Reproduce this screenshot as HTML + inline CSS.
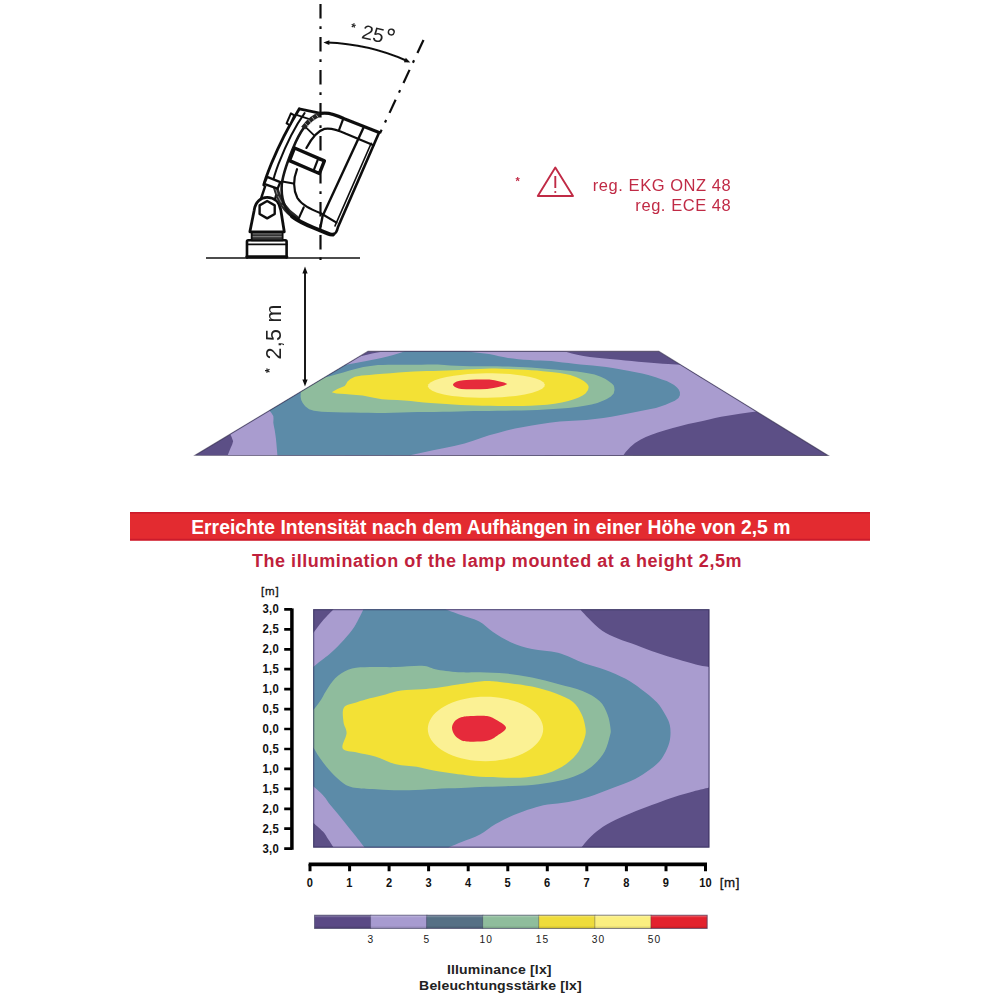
<!DOCTYPE html>
<html><head><meta charset="utf-8"><title>Illumination diagram</title>
<style>
html,body{margin:0;padding:0;background:#fff;}
body{width:1000px;height:1000px;overflow:hidden;font-family:"Liberation Sans",sans-serif;}
svg{display:block;}
text{font-family:"Liberation Sans",sans-serif;}
</style></head><body>
<svg width="1000" height="1000" viewBox="0 0 1000 1000">
<rect width="1000" height="1000" fill="#fff"/>
<defs><filter id="soft" x="-5%" y="-5%" width="110%" height="110%"><feGaussianBlur stdDeviation="0.55"/></filter>
<filter id="soft2"><feGaussianBlur stdDeviation="0.35"/></filter></defs>

<!-- ground line -->
<path d="M206,258H360" stroke="#111" stroke-width="1.6" fill="none"/>
<!-- lamp -->
<g filter="url(#soft2)">
<g transform="translate(220,90) scale(0.18)" fill="none" stroke="#111" stroke-width="14.6" stroke-linecap="round" stroke-linejoin="round">
  <!-- base -->
  <path d="M150,930 V842 Q150,835 157,835 H363 Q370,835 370,842 V930" fill="#fff"/>
  <path d="M150,858 H370" stroke-width="10.1"/>
  <path d="M150,927 H370" stroke-width="19"/>
  <!-- rings -->
  <rect x="176" y="783" width="172" height="52" fill="#333" stroke-width="10.1"/>
  <path d="M184,799 H340 M184,815 H340" stroke="#aaa" stroke-width="4"/>
  <!-- neck -->
  <path d="M229,600 L265,492 L330,520 L305,610 Z" fill="#fff" stroke-width="13.4"/>
  <!-- bracket -->
  <path d="M166,788 L190,668 C196,622 226,597 262,597 C300,597 330,622 338,668 L357,788 Z" fill="#fff" stroke-width="15.7"/>
  <path d="M262,617 L304,641 L304,689 L262,713 L220,689 L220,641 Z" stroke-width="13.4"/>
  <!-- lamp body fill -->
  <path d="M440,105 L560,130 C600,122 640,135 690,160 L884,236 L655,762 C650,785 645,798 628,803 L420,720 C380,700 345,650 335,560 L243,528 C260,460 330,300 440,105 Z" fill="#fff" stroke="none"/>
  <!-- hatched dark zone between neck and band -->
  <path d="M306,532 C318,575 330,610 352,642 C372,672 395,692 420,708" stroke="#2a2a2a" stroke-width="29.1"/>
  <path d="M308,545 L318,578 M324,592 L340,624 M350,642 L378,672" stroke="#999" stroke-width="5"/>
  <!-- back plate -->
  <path d="M440,105 C400,170 330,300 285,410 C265,460 250,500 243,528" stroke-width="15.7"/>
  <path d="M394,130 L370,185 L388,195 L413,141 Z" stroke-width="11.2" fill="#fff"/>
  <path d="M440,105 L560,130" stroke-width="14.6"/>
  <path d="M425,138 L492,160" stroke-width="10.1"/>
  <path d="M470,128 C425,190 368,300 325,410 C308,455 297,490 292,520" stroke-width="11.2"/>
  <!-- clamp at bottom of back plate -->
  <path d="M262,482 L335,512 L320,548 L245,522 Z" fill="#fff" stroke-width="13.4"/>
  <!-- gasket: arc line + hatched thick part at top -->
  <path d="M560,132 C510,148 462,200 420,290 C385,370 352,450 343,525 C338,600 358,660 400,702" stroke-width="14.5" stroke="#151515"/>
  <path d="M556,136 C520,146 492,170 462,212" stroke-width="27" stroke="#222" stroke-linecap="butt"/>
  <path d="M535,138 L545,152 M512,150 L524,166 M492,166 L505,182 M474,186 L488,200" stroke="#aaa" stroke-width="5"/>
  <!-- outer D band -->
  <path d="M560,130 C600,122 640,135 690,160 L884,236" stroke-width="17.9"/>
  <path d="M400,702 C430,725 470,745 520,765 L600,798 C612,803 620,805 628,803" stroke-width="21.3"/>
  <!-- inner D -->
  <path d="M853,307 L700,243 C650,220 615,208 580,216 C540,228 505,275 480,322" stroke-width="12.3"/>
  <path d="M428,440 C405,500 410,560 430,600 C455,640 500,660 560,685 L647,737" stroke-width="12.3"/>
  <!-- front glass -->
  <path d="M884,236 L655,762 C650,785 645,798 628,803" stroke-width="14.6"/>
  <path d="M840,296 L639,755" stroke-width="9"/>
  <!-- long straight seam line -->
  <path d="M797,210 L570,700 L556,772" stroke-width="13.4"/>
  <!-- seams -->
  <path d="M683,165 L660,226" stroke-width="12.3"/>
  <path d="M465,652 L438,712" stroke-width="12.3"/>
  <path d="M480,210 L523,252" stroke-width="10.1"/>
  <path d="M346,508 L408,519" stroke-width="11.2"/>
  <!-- small handle -->
  <path d="M414,322 L580,394 L552,464 L386,392 Z" fill="#fff" stroke-width="19"/>
  <path d="M543,388 L520,448" stroke-width="12.3"/>
</g>

</g>
<!-- dash-dot lines -->
<g fill="none" stroke="#111" stroke-width="2.2" stroke-dasharray="14.4 7.9 2.8 7.9" filter="url(#soft2)">
<path d="M320.5,4V262"/>
<path d="M423.5,40L380,133.3"/>
</g>
<!-- angle arc -->
<g filter="url(#soft2)">
<path d="M326.7,42.6A214.5,214.5 0 0 1 407.2,61.0" fill="none" stroke="#111" stroke-width="2"/>
<path d="M323.4,42.5L329.4,40.3L329.3,45.1ZM410.3,62.4L403.9,62.2L405.8,57.8Z" fill="#111"/>
<g transform="translate(373.5,33.5) rotate(13)" fill="#222">
<text x="-11.5" y="7.2" font-size="20">25</text>
<circle cx="17" cy="-5.4" r="2.9" fill="none" stroke="#222" stroke-width="1.4"/>
<text x="-23.5" y="2.5" font-size="12" font-weight="bold">*</text>
</g>
<!-- 2,5 m -->
<path d="M305,270V384" stroke="#111" stroke-width="1.9" fill="none"/>
<path d="M305,266.5L302.4,273.5H307.6ZM305,386.5L302.4,379.5H307.6Z" fill="#111"/>
<g transform="translate(281,372) rotate(-90)" fill="#222">
<text x="-1" y="-7" font-size="12" font-weight="bold">*</text>
<text x="12.5" y="0" font-size="21.5" letter-spacing="0.3">2,5 m</text>
</g>
</g>

<!-- regulation -->
<g fill="#c02a45" font-size="16.5" letter-spacing="0.55" filter="url(#soft2)">
<text x="515.5" y="184.5" font-size="11" font-weight="bold">*</text>
<path d="M555.3,167.5L537.8,196H573Z" fill="none" stroke="#c02a45" stroke-width="1.9" stroke-linejoin="round"/>
<path d="M555.3,176V188" stroke="#c02a45" stroke-width="1.9" fill="none"/>
<circle cx="555.3" cy="192" r="1.1"/>
<text x="731.3" y="191" text-anchor="end">reg. EKG ONZ 48</text>
<text x="731.3" y="210.5" text-anchor="end">reg. ECE 48</text>
</g>

<!-- floor -->
<g filter="url(#soft)">
<path d="M368.0,351.4L658.8,351.4L828.0,455.5L195.2,455.2Z" fill="#5c4f86"/>
<path d="M383.0,351.4L383.3,351.4L384.2,351.4L385.7,351.4L387.8,351.4L390.4,351.4L393.4,351.4L397.0,351.4L400.9,351.4L405.3,351.4L410.0,351.4L415.0,351.4L420.3,351.4L425.9,351.4L431.8,351.4L437.8,351.4L444.1,351.4L450.4,351.4L456.9,351.4L463.4,351.4L470.0,351.4L476.7,351.4L483.3,351.4L489.8,351.4L496.3,351.4L502.6,351.4L508.9,351.4L514.9,351.4L520.8,351.4L526.4,351.4L531.7,351.4L536.8,351.4L541.5,351.4L545.8,351.4L549.8,351.4L553.3,351.4L556.4,351.4L559.0,351.4L561.0,351.4L562.6,351.4L563.5,351.4L563.8,351.4L566.6,352.1L571.8,353.4L577.2,354.7L583.4,355.9L589.9,356.9L596.9,357.7L601.9,358.2L607.2,358.7L612.8,359.2L618.8,359.8L625.2,360.5L631.7,361.1L638.1,361.7L644.6,362.2L650.9,362.7L656.9,363.2L662.7,363.7L668.0,364.1L676.1,364.5L680.5,364.8L680.9,365.0L682.0,365.7L683.7,366.7L686.1,368.2L689.1,370.0L692.6,372.2L696.6,374.7L701.1,377.4L706.1,380.5L711.4,383.8L717.0,387.2L722.9,390.8L728.8,394.5L734.7,398.1L740.3,401.5L745.5,404.7L749.9,407.5L753.4,409.6L755.7,411.0L756.5,411.5L750.4,412.3L739.8,413.7L733.7,414.7L727.4,415.7L721.1,416.8L715.1,418.0L709.1,419.4L702.7,420.9L695.6,422.4L688.1,424.1L680.6,426.0L672.9,428.0L665.1,430.2L657.8,432.4L651.5,434.7L645.8,437.0L640.8,439.4L635.0,443.1L630.3,447.0L625.7,452.1L623.2,455.4L622.5,455.4L620.4,455.4L617.1,455.4L612.6,455.4L606.9,455.4L600.2,455.4L592.5,455.4L583.8,455.4L574.3,455.4L564.0,455.4L552.9,455.4L541.2,455.4L529.0,455.4L516.2,455.4L502.9,455.3L489.3,455.3L475.4,455.3L461.2,455.3L446.9,455.3L432.5,455.3L418.0,455.3L403.6,455.3L389.3,455.3L375.1,455.3L361.2,455.3L347.6,455.3L334.4,455.3L321.6,455.3L309.4,455.3L297.7,455.2L286.7,455.2L276.4,455.2L266.9,455.2L258.3,455.2L250.6,455.2L243.9,455.2L238.2,455.2L233.7,455.2L230.4,455.2L228.4,455.2L227.7,455.2L228.8,452.4L230.6,447.9L232.2,444.6L233.1,441.3L231.6,436.9L230.2,434.2L230.9,433.8L233.0,432.5L236.2,430.5L240.6,427.9L245.8,424.8L251.6,421.3L257.9,417.5L264.6,413.5L271.5,409.4L278.4,405.2L285.3,401.1L292.0,397.0L298.6,393.1L304.9,389.3L310.9,385.7L316.6,382.3L322.0,379.0L327.1,376.0L331.7,373.2L336.1,370.6L340.0,368.2L343.6,366.0L346.9,364.1L349.7,362.4L352.3,360.9L354.4,359.6L356.2,358.5L357.6,357.6L358.7,357.0L359.3,356.6L359.5,356.5L362.8,355.7L368.1,354.5L372.1,353.6L376.0,352.8L380.4,351.9Z" fill="#a99ccf"/>
<path d="M404.9,351.4L405.9,351.4L408.7,351.4L413.0,351.4L418.4,351.4L424.7,351.4L431.4,351.4L438.4,351.4L445.1,351.4L451.4,351.4L456.8,351.4L461.1,351.4L463.9,351.4L464.9,351.4L468.9,351.8L475.9,352.6L480.2,353.0L484.8,353.4L489.0,354.0L494.0,355.0L499.0,356.2L503.3,357.0L508.0,357.9L513.1,358.6L518.3,359.2L523.8,359.7L529.8,360.1L534.8,360.4L540.2,360.6L545.6,360.8L551.1,361.1L556.8,361.7L562.6,362.4L568.4,363.1L573.9,363.7L580.4,364.4L586.4,364.9L592.6,365.5L599.3,366.2L606.1,367.1L612.6,368.0L618.4,368.9L623.8,369.9L629.4,371.0L635.7,372.2L642.2,373.6L648.2,375.0L655.7,377.2L661.9,379.4L666.7,381.1L670.5,382.9L674.1,385.1L677.0,387.5L678.9,389.8L679.9,392.3L679.9,395.2L678.5,398.1L674.8,400.7L669.5,403.1L665.6,404.8L661.2,406.3L655.9,407.9L649.4,409.3L641.9,410.8L634.4,412.2L626.9,413.7L619.3,415.3L611.4,416.8L603.3,418.0L594.9,419.1L586.3,420.0L577.3,420.6L568.1,421.1L559.7,421.6L549.4,422.7L539.5,424.2L531.8,425.5L523.5,426.9L515.1,428.6L506.6,430.6L497.8,432.9L489.1,435.3L481.0,438.0L473.1,440.8L464.5,443.6L454.2,446.0L443.2,448.3L433.0,450.3L418.2,453.5L410.1,455.3L407.9,455.3L401.6,455.3L392.1,455.3L380.1,455.3L366.3,455.3L351.4,455.3L336.1,455.3L321.2,455.3L307.3,455.3L295.3,455.2L285.9,455.2L279.6,455.2L277.4,455.2L277.0,450.6L276.4,443.5L275.9,438.3L275.2,433.2L274.6,429.5L273.8,425.7L273.3,422.4L273.5,418.8L273.3,415.9L271.1,412.5L269.4,410.6L270.3,410.1L272.8,408.6L276.6,406.3L281.5,403.4L287.0,400.0L293.1,396.4L299.3,392.7L305.6,388.9L311.7,385.2L317.5,381.7L323.0,378.5L327.9,375.5L332.4,372.8L336.3,370.4L339.6,368.5L342.2,366.9L344.2,365.7L345.4,365.0L345.8,364.7L347.4,364.4L351.6,363.7L358.4,362.5L366.4,361.1L371.4,360.1L376.5,359.0L381.3,358.0L387.5,356.6L393.3,355.1L398.1,353.6L402.8,352.1Z" fill="#5b8ba8"/>
<path d="M324.5,377.6L326.3,377.1L329.8,376.2L333.2,375.3L337.5,374.1L343.2,372.4L349.6,370.5L356.3,368.7L363.3,367.1L370.5,365.9L378.0,365.1L382.9,364.9L388.0,364.8L393.7,364.7L398.7,364.7L404.3,364.7L410.0,364.8L415.7,364.7L421.4,364.7L427.4,364.5L433.0,364.4L437.9,364.4L444.3,364.9L450.3,365.4L456.5,365.7L463.4,366.0L469.9,366.2L475.4,366.2L480.5,366.2L486.2,366.2L491.3,366.2L496.9,366.3L502.7,366.4L508.4,366.5L514.0,366.7L519.6,367.0L525.3,367.3L530.9,367.6L536.7,368.0L542.5,368.5L548.4,369.0L554.2,369.5L560.1,369.9L566.0,370.4L571.7,370.9L577.1,371.5L583.5,372.4L589.4,373.5L594.6,374.6L600.7,376.8L605.5,379.1L609.5,381.7L612.4,384.1L613.7,385.4L614.2,386.9L614.5,389.9L613.7,393.4L610.9,396.4L606.4,399.3L602.3,401.1L597.4,402.9L591.5,404.4L584.7,405.8L576.9,406.9L568.3,407.9L561.1,408.5L553.4,409.1L545.3,409.6L537.3,410.0L529.4,410.3L521.5,410.4L513.5,410.6L505.6,410.7L497.4,410.8L489.1,410.9L481.0,411.0L473.6,411.1L465.4,411.3L458.2,411.5L450.0,411.7L442.5,411.8L434.3,411.9L425.9,412.0L417.6,412.1L409.4,412.3L401.2,412.5L392.9,412.8L384.8,412.9L376.7,412.9L368.6,412.8L360.7,412.7L352.8,412.6L344.5,412.4L336.0,412.3L328.1,412.0L321.7,411.7L313.9,410.8L309.1,409.2L305.2,406.3L302.7,403.1L301.2,399.9L300.6,396.8L300.7,393.5L301.0,391.6L302.9,390.5L307.6,387.7L313.4,384.2L318.9,380.9L322.9,378.5Z" fill="#8fbc9d"/>
<path d="M354.9,376.7L361.8,375.6L369.4,375.0L376.1,374.3L383.0,373.8L390.7,373.2L398.6,372.5L406.0,371.9L413.9,371.4L420.1,371.2L426.7,371.1L432.9,371.0L440.0,370.8L447.1,370.6L453.0,370.3L459.3,369.9L465.7,369.6L472.6,369.3L479.5,369.0L485.5,368.8L491.2,368.6L496.0,368.6L501.4,368.8L508.3,369.1L513.3,369.3L519.2,369.5L525.4,369.8L531.3,370.2L537.0,370.6L542.8,371.2L548.3,371.7L553.4,372.3L559.7,373.1L565.3,374.0L570.2,375.0L575.9,376.9L580.3,379.0L583.7,381.0L586.2,383.1L588.0,384.9L588.7,386.9L588.0,390.0L585.5,393.4L582.6,395.4L578.7,397.4L574.0,399.3L568.3,401.0L561.8,402.5L554.7,403.8L547.0,404.7L538.8,405.3L530.5,405.8L522.6,406.0L514.6,406.1L505.9,406.0L498.4,406.0L490.3,405.8L482.4,405.7L475.1,405.5L467.4,405.2L460.7,404.9L453.2,404.4L446.1,404.0L438.3,403.5L430.7,402.9L423.9,402.4L416.8,401.8L410.8,401.1L404.4,400.5L397.0,400.1L389.3,399.8L381.9,399.3L375.1,398.1L368.7,396.8L362.6,395.6L356.4,394.9L350.3,394.4L344.8,393.9L336.3,393.4L331.7,392.2L337.4,389.1L344.7,385.9L346.3,383.7L347.3,381.7L350.4,379.0Z" fill="#f3e136"/>
<path d="M544.8,384.4L544.4,386.5L542.2,388.7L538.1,390.8L532.3,392.7L524.7,394.4L515.7,395.9L509.1,396.6L502.0,397.2L494.7,397.6L487.2,397.8L479.7,397.8L472.3,397.6L465.2,397.2L458.4,396.6L452.1,395.9L443.8,394.4L437.1,392.7L432.2,390.7L429.1,388.6L427.9,386.5L428.5,384.3L430.9,382.3L434.8,380.3L440.1,378.6L446.5,377.0L454.0,375.7L462.2,374.7L467.9,374.1L473.9,373.7L480.0,373.5L486.1,373.3L492.3,373.3L498.4,373.5L504.3,373.7L510.1,374.1L515.6,374.7L523.4,375.7L530.2,377.0L535.9,378.6L540.4,380.3L543.4,382.3Z" fill="#fbf194"/>
<path d="M453.1,383.9L454.5,382.7L456.8,381.6L459.8,380.8L463.3,380.2L466.3,379.9L470.8,379.7L476.4,379.6L483.3,379.5L489.2,379.6L494.5,380.2L498.7,381.2L504.1,382.4L507.3,383.9L504.1,385.4L498.4,386.9L493.5,388.1L487.1,389.0L480.3,389.3L472.4,389.3L466.1,389.3L461.3,388.9L458.6,388.4L456.0,387.5L454.2,386.5L453.1,385.2Z" fill="#e62a3a"/>
<path d="M368.0,351.4L658.8,351.4L828.0,455.5L195.2,455.2Z" fill="none" stroke="#25203f" stroke-opacity="0.6" stroke-width="1.1" stroke-linejoin="miter"/>
</g>

<!-- banner -->
<rect x="130" y="512" width="740" height="28.6" fill="#e32b30"/>
<rect x="130" y="512" width="740" height="1.6" fill="#c4182c" fill-opacity="0.8"/>
<rect x="130" y="538.8" width="740" height="1.8" fill="#c4182c" fill-opacity="0.8"/>
<text transform="translate(490.8,534.2) scale(0.968,1)" text-anchor="middle" font-size="20" font-weight="bold" fill="#fff">Erreichte Intensität nach dem Aufhängen in einer Höhe von 2,5 m</text>
<text x="497" y="567" text-anchor="middle" font-size="18" font-weight="bold" fill="#c01f3c" letter-spacing="0.55">The illumination of the lamp mounted at a height 2,5m</text>

<!-- chart -->
<g filter="url(#soft)">
<rect x="313.2" y="609.2" width="396.2" height="238.39999999999998" fill="#5c4f86"/>
<path d="M333.6,609.2C333.6,609.2 580.1,609.2 580.1,609.2C580.1,609.2 585.5,615.4 589.2,619.0C592.9,622.6 597.4,627.5 602.2,630.7C607.0,634.0 612.2,636.1 617.8,638.5C623.4,640.9 629.5,642.6 636.0,645.0C642.5,647.4 649.9,650.4 656.8,652.8C663.7,655.2 671.1,657.3 677.6,659.3C684.1,661.2 690.5,663.2 695.8,664.5C701.1,665.8 709.4,667.1 709.4,667.1C709.4,667.1 709.4,787.6 709.4,787.6C709.4,787.6 698.9,790.0 693.2,791.5C687.5,793.0 681.1,794.8 675.0,796.7C668.9,798.7 663.3,800.8 656.8,803.2C650.3,805.6 642.9,808.2 636.0,811.0C629.1,813.8 621.3,817.1 615.2,820.1C609.1,823.1 603.9,826.2 599.6,829.2C595.3,832.2 592.2,835.2 589.2,838.3C586.2,841.4 581.4,847.6 581.4,847.6C581.4,847.6 333.6,847.6 333.6,847.6C333.6,847.6 330.1,842.2 328.4,839.6C326.7,837.0 325.7,834.6 323.2,831.8C320.7,829.0 313.2,822.7 313.2,822.7C313.2,822.7 313.2,633.3 313.2,633.3C313.2,633.3 317.7,626.9 320.0,624.0C322.3,621.1 324.7,618.5 327.0,616.0C329.3,613.5 333.6,609.2 333.6,609.2Z" fill="#a99ccf"/>
<path d="M363.5,609.2C363.5,609.2 445.4,609.2 445.4,609.2C445.4,609.2 455.4,613.0 461.0,615.1C466.6,617.2 473.9,618.8 479.2,621.6C484.5,624.4 487.7,628.5 493.0,632.0C498.3,635.5 504.7,639.6 511.2,642.4C517.7,645.2 524.2,647.2 532.0,648.9C539.8,650.6 549.3,650.4 558.0,652.8C566.7,655.2 576.2,660.4 584.0,663.2C591.8,666.0 597.9,667.1 604.8,669.7C611.7,672.3 619.5,675.5 625.6,678.8C631.7,682.0 636.0,685.3 641.2,689.2C646.4,693.1 652.7,697.9 656.8,702.2C660.9,706.5 663.4,711.4 665.6,715.2C667.8,719.0 669.0,721.4 669.8,725.0C670.6,728.6 670.7,733.1 670.3,737.0C669.9,740.9 669.0,744.5 667.2,748.6C665.4,752.7 662.9,757.7 659.4,761.6C655.9,765.5 651.2,768.8 646.4,772.0C641.6,775.2 636.9,778.3 630.8,781.1C624.7,783.9 616.9,786.3 610.0,788.9C603.1,791.5 596.1,794.5 589.2,796.7C582.3,798.9 575.3,800.6 568.4,801.9C561.5,803.2 553.7,803.4 547.6,804.5C541.5,805.6 537.6,806.7 532.0,808.4C526.4,810.1 519.9,812.3 513.8,814.9C507.7,817.5 501.2,820.8 495.6,824.0C490.0,827.2 485.8,831.4 480.0,834.4C474.2,837.4 466.3,840.0 461.0,842.2C455.7,844.4 448.0,847.6 448.0,847.6C448.0,847.6 364.8,847.6 364.8,847.6C364.8,847.6 357.9,838.8 354.4,834.4C350.9,830.0 347.9,826.2 344.0,821.4C340.1,816.6 334.5,810.1 331.0,805.8C327.5,801.5 326.2,798.6 323.2,795.4C320.2,792.1 313.2,786.3 313.2,786.3C313.2,786.3 313.2,667.0 313.2,667.0C313.2,667.0 315.0,665.4 318.0,663.0C321.0,660.6 326.7,656.7 331.0,652.8C335.3,648.9 340.1,644.1 344.0,639.8C347.9,635.5 351.1,631.9 354.4,626.8C357.6,621.7 363.5,609.2 363.5,609.2Z" fill="#5b8ba8"/>
<path d="M313.2,710.0C313.2,710.0 315.2,707.8 316.5,706.0C317.8,704.2 319.2,702.6 321.2,699.5C323.1,696.4 325.4,691.5 328.2,687.5C331.0,683.5 334.0,678.9 338.0,675.8C342.0,672.6 346.7,670.0 352.0,668.6C357.3,667.2 362.7,667.4 370.0,667.1C377.3,666.9 387.3,667.3 396.0,667.1C404.7,666.9 415.1,665.4 422.0,665.8C428.9,666.2 431.1,668.6 437.6,669.7C444.1,670.8 453.9,671.9 461.0,672.3C468.1,672.7 472.5,672.1 480.0,672.3C487.5,672.5 497.3,672.7 506.0,673.6C514.7,674.5 523.3,675.8 532.0,677.5C540.7,679.2 549.6,681.8 558.0,684.0C566.4,686.2 575.6,688.2 582.5,691.0C589.4,693.8 595.3,697.1 599.5,701.0C603.7,704.9 605.7,710.0 607.5,714.5C609.3,719.0 610.1,724.7 610.5,728.2C610.9,731.7 611.0,731.8 610.0,735.6C609.0,739.4 607.4,746.4 604.8,751.2C602.2,756.0 598.7,760.3 594.4,764.2C590.1,768.1 584.9,771.8 578.8,774.6C572.7,777.4 565.8,779.4 558.0,781.1C550.2,782.8 540.7,784.1 532.0,785.0C523.3,785.9 514.7,785.9 506.0,786.3C497.3,786.6 487.5,786.8 480.0,787.1C472.5,787.4 468.5,787.8 461.0,788.1C453.5,788.4 443.7,788.5 435.0,788.9C426.3,789.2 417.7,790.1 409.0,790.2C400.3,790.3 391.7,790.1 383.0,789.7C374.3,789.4 363.5,789.1 357.0,788.1C350.5,787.1 348.3,786.4 344.0,783.7C339.7,781.0 334.9,776.1 331.0,772.0C327.1,767.9 323.6,763.1 320.6,759.0C317.6,754.9 313.2,747.3 313.2,747.3C313.2,747.3 313.2,710.0 313.2,710.0Z" fill="#8fbc9d"/>
<path d="M344.0,707.4C346.2,704.1 352.7,703.7 357.0,702.2C361.3,700.7 365.2,699.6 370.0,698.3C374.8,697.0 380.4,695.7 385.6,694.4C390.8,693.1 395.1,691.4 401.2,690.5C407.3,689.6 415.9,689.7 422.0,689.2C428.1,688.8 431.6,688.6 437.6,687.8C443.6,687.0 450.9,685.6 458.0,684.6C465.1,683.6 474.3,682.2 480.0,681.6C485.7,681.0 487.7,681.0 492.0,681.2C496.3,681.4 499.3,681.8 506.0,682.7C512.7,683.6 523.7,684.8 532.0,686.6C540.3,688.4 549.2,690.9 556.0,693.5C562.8,696.1 568.8,698.6 573.0,702.0C577.2,705.4 579.5,710.1 581.5,714.0C583.5,717.9 584.4,722.0 585.0,725.6C585.6,729.2 586.3,731.3 585.3,735.6C584.3,739.9 582.0,746.4 578.8,751.2C575.5,756.0 571.0,760.5 565.8,764.2C560.6,767.9 554.1,771.1 547.6,773.3C541.1,775.5 533.7,776.5 526.8,777.2C519.9,777.9 513.8,777.8 506.0,777.7C498.2,777.6 487.5,777.2 480.0,776.7C472.5,776.2 468.5,775.6 461.0,774.6C453.5,773.6 442.4,772.0 435.0,770.7C427.6,769.4 423.3,767.9 416.8,766.8C410.3,765.7 402.9,765.9 396.0,764.2C389.1,762.5 381.7,758.4 375.2,756.4C368.7,754.4 362.4,753.8 357.0,752.5C351.6,751.2 344.4,751.9 342.7,748.6C341.0,745.4 346.5,737.4 346.6,733.0C346.7,728.6 343.9,726.3 343.5,722.0C343.1,717.7 341.8,710.7 344.0,707.4Z" fill="#f3e136"/>
<path d="M543.2,729.0C543.2,732.7 542.0,736.6 539.7,740.0C537.5,743.5 533.9,746.9 529.7,749.7C525.5,752.5 520.0,755.1 514.4,756.9C508.7,758.7 502.0,760.1 495.5,760.7C489.0,761.3 482.0,761.3 475.5,760.7C469.0,760.1 462.3,758.7 456.7,756.9C451.0,755.1 445.5,752.5 441.3,749.7C437.1,746.9 433.5,743.5 431.3,740.0C429.0,736.6 427.8,732.7 427.8,729.0C427.8,725.3 429.0,721.4 431.3,718.0C433.5,714.5 437.1,711.1 441.3,708.3C445.5,705.5 451.0,702.9 456.6,701.1C462.3,699.3 469.0,697.9 475.5,697.3C482.0,696.7 489.0,696.7 495.5,697.3C502.0,697.9 508.7,699.3 514.3,701.1C520.0,702.9 525.5,705.5 529.7,708.3C533.9,711.1 537.5,714.5 539.7,718.0C542.0,721.4 543.2,725.3 543.2,729.0Z" fill="#fbf194"/>
<path d="M452.0,727.8C452.0,725.6 453.1,723.2 454.5,721.5C455.9,719.8 458.2,718.5 460.5,717.6C462.8,716.7 463.6,716.5 468.0,716.2C472.4,715.9 482.2,715.3 487.0,716.0C491.8,716.7 493.8,718.3 497.0,720.3C500.2,722.3 505.9,725.3 506.0,727.8C506.1,730.3 500.7,733.3 497.5,735.5C494.3,737.7 492.1,739.8 487.0,740.8C481.9,741.8 471.6,741.8 467.0,741.5C462.4,741.2 461.6,740.5 459.5,739.3C457.4,738.1 455.6,736.4 454.3,734.5C453.1,732.6 452.0,730.0 452.0,727.8Z" fill="#e62a3a"/>
<rect x="313.7" y="609.7" width="395.2" height="237.39999999999998" fill="none" stroke="#2a2450" stroke-opacity="0.55" stroke-width="1.2"/>
</g>
<!-- y axis -->
<g font-size="12.6" font-weight="bold" fill="#111" letter-spacing="0.3">
<text x="270.3" y="595" text-anchor="middle" font-size="11.6" letter-spacing="0.9" font-weight="normal" stroke="#111" stroke-width="0.3">[m]</text>
<text transform="translate(279,613.2) scale(0.9,1)" text-anchor="end">3,0</text><text transform="translate(279,633.1) scale(0.9,1)" text-anchor="end">2,5</text><text transform="translate(279,653.1) scale(0.9,1)" text-anchor="end">2,0</text><text transform="translate(279,673.0) scale(0.9,1)" text-anchor="end">1,5</text><text transform="translate(279,693.0) scale(0.9,1)" text-anchor="end">1,0</text><text transform="translate(279,712.9) scale(0.9,1)" text-anchor="end">0,5</text><text transform="translate(279,732.8) scale(0.9,1)" text-anchor="end">0,0</text><text transform="translate(279,752.8) scale(0.9,1)" text-anchor="end">0,5</text><text transform="translate(279,772.7) scale(0.9,1)" text-anchor="end">1,0</text><text transform="translate(279,792.7) scale(0.9,1)" text-anchor="end">1,5</text><text transform="translate(279,812.6) scale(0.9,1)" text-anchor="end">2,0</text><text transform="translate(279,832.5) scale(0.9,1)" text-anchor="end">2,5</text><text transform="translate(279,852.5) scale(0.9,1)" text-anchor="end">3,0</text>
</g>
<path d="M291.9,608.4V849.8" stroke="#000" stroke-width="3.5" fill="none"/>
<path d="M284.2,609.4H292M284.2,629.3H292M284.2,649.3H292M284.2,669.2H292M284.2,689.2H292M284.2,709.1H292M284.2,729.0H292M284.2,749.0H292M284.2,768.9H292M284.2,788.9H292M284.2,808.8H292M284.2,828.7H292M284.2,848.7H292" stroke="#000" stroke-width="2.7" fill="none"/>
<!-- x axis -->
<path d="M308.7,864.3H707" stroke="#000" stroke-width="3.8" fill="none"/>
<path d="M310.0,864V871.3M349.6,864V871.3M389.1,864V871.3M428.6,864V871.3M468.2,864V871.3M507.8,864V871.3M547.3,864V871.3M586.8,864V871.3M626.4,864V871.3M666.0,864V871.3M705.5,864V871.3" stroke="#000" stroke-width="3" fill="none"/>
<g font-size="12.6" font-weight="bold" fill="#111">
<text transform="translate(309.9,886.9) scale(0.88,1)" text-anchor="middle">0</text><text transform="translate(349.4,886.9) scale(0.88,1)" text-anchor="middle">1</text><text transform="translate(389.0,886.9) scale(0.88,1)" text-anchor="middle">2</text><text transform="translate(428.5,886.9) scale(0.88,1)" text-anchor="middle">3</text><text transform="translate(468.1,886.9) scale(0.88,1)" text-anchor="middle">4</text><text transform="translate(507.6,886.9) scale(0.88,1)" text-anchor="middle">5</text><text transform="translate(547.2,886.9) scale(0.88,1)" text-anchor="middle">6</text><text transform="translate(586.7,886.9) scale(0.88,1)" text-anchor="middle">7</text><text transform="translate(626.3,886.9) scale(0.88,1)" text-anchor="middle">8</text><text transform="translate(665.9,886.9) scale(0.88,1)" text-anchor="middle">9</text><text transform="translate(705.4,886.9) scale(0.88,1)" text-anchor="middle">10</text>
<text x="729.8" y="887.2" text-anchor="middle" font-weight="normal" font-size="13.3" letter-spacing="0.6" stroke="#111" stroke-width="0.3">[m]</text>
</g>
<!-- legend -->
<g filter="url(#soft2)">
<rect x="314.5" y="915.2" width="56.4" height="13.3" fill="#5a4a85" stroke="#303050" stroke-opacity="0.35" stroke-width="0.9"/><rect x="370.6" y="915.2" width="56.4" height="13.3" fill="#a79bd0" stroke="#303050" stroke-opacity="0.35" stroke-width="0.9"/><rect x="426.6" y="915.2" width="56.4" height="13.3" fill="#566f85" stroke="#303050" stroke-opacity="0.35" stroke-width="0.9"/><rect x="482.7" y="915.2" width="56.4" height="13.3" fill="#8fbd9c" stroke="#303050" stroke-opacity="0.35" stroke-width="0.9"/><rect x="538.8" y="915.2" width="56.4" height="13.3" fill="#efdc3a" stroke="#303050" stroke-opacity="0.35" stroke-width="0.9"/><rect x="594.9" y="915.2" width="56.4" height="13.3" fill="#fbef80" stroke="#303050" stroke-opacity="0.35" stroke-width="0.9"/><rect x="650.9" y="915.2" width="56.4" height="13.3" fill="#e3242f" stroke="#303050" stroke-opacity="0.35" stroke-width="0.9"/>
<rect x="314.5" y="915.6" width="392.5" height="1.6" fill="#fff" fill-opacity="0.18"/>
<rect x="314.5" y="926.6" width="392.5" height="1.9" fill="#000" fill-opacity="0.12"/>
<rect x="314.5" y="915.2" width="392.5" height="13.3" fill="none" stroke="#4a4a6a" stroke-opacity="0.45" stroke-width="1"/>
</g>
<g font-size="10.2" fill="#1a1a1a" letter-spacing="1.1">
<text x="370.9" y="943" text-anchor="middle">3</text><text x="426.9" y="943" text-anchor="middle">5</text><text x="486.3" y="943" text-anchor="middle">10</text><text x="542.4" y="943" text-anchor="middle">15</text><text x="598.5" y="943" text-anchor="middle">30</text><text x="654.5" y="943" text-anchor="middle">50</text>
</g>
<g font-size="12.7" font-weight="bold" fill="#222" text-anchor="middle" letter-spacing="0.15">
<text transform="translate(499.3,973.8) scale(1.105,1)">Illuminance [lx]</text>
<text transform="translate(500.5,989.6) scale(1.105,1)">Beleuchtungsstärke [lx]</text>
</g>
</svg>
</body></html>
